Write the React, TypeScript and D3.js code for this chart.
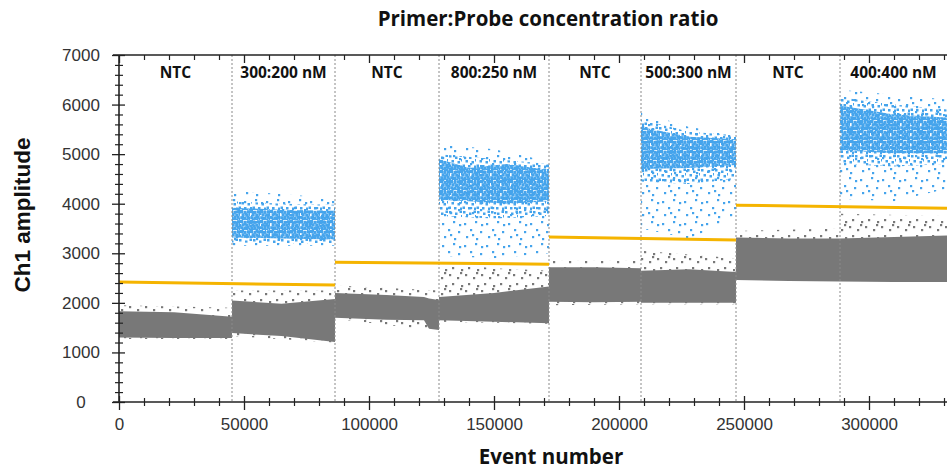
import React, { useEffect, useRef } from "react";
import * as d3 from "d3";

type Band = [number, number, number]; // event number, low amplitude, high amplitude

// wells and their event ranges
const wellLabels = ["NTC", "300:200 nM", "NTC", "800:250 nM", "NTC", "500:300 nM", "NTC", "400:400 nM"];
const wellBounds = [0, 45200, 86400, 128000, 172000, 208800, 246800, 288400, 331200];

// thresholds: start event, end event, amplitude at start, amplitude at end
const thresholds: [number, number, number, number][] = [
  [0, 86400, 2420, 2360],
  [86400, 172000, 2820, 2780],
  [172000, 246800, 3330, 3270],
  [246800, 331200, 3970, 3910],
];

// negative droplets, dense part
const grayCore: Band[] = [
  [0, 1300, 1830],
  [22000, 1290, 1810],
  [45200, 1290, 1720],
  [45200, 1390, 2050],
  [65000, 1330, 1980],
  [86400, 1210, 2080],
  [86400, 1700, 2200],
  [107000, 1660, 2160],
  [122000, 1650, 2120],
  [124000, 1480, 2090],
  [128000, 1450, 2060],
  [128000, 1650, 2120],
  [150000, 1620, 2200],
  [172000, 1590, 2330],
  [172000, 2020, 2720],
  [190000, 2010, 2720],
  [208800, 2020, 2700],
  [208800, 2000, 2650],
  [228000, 2000, 2680],
  [246800, 2000, 2620],
  [246800, 2460, 3320],
  [268000, 2440, 3300],
  [288400, 2430, 3300],
  [310000, 2420, 3330],
  [331200, 2420, 3360],
];

// negative droplets, sparse spread
const grayHalo: Band[] = [
  [0, 1270, 1950],
  [45200, 1270, 1900],
  [45200, 1330, 2250],
  [86400, 1200, 2250],
  [86400, 1680, 2350],
  [128000, 1430, 2250],
  [128000, 1620, 2800],
  [150000, 1600, 2700],
  [172000, 1580, 2650],
  [172000, 1950, 2850],
  [208800, 1970, 2850],
  [208800, 1970, 3050],
  [246800, 1970, 2900],
  [246800, 2440, 3450],
  [288400, 2420, 3500],
  [288400, 2410, 3800],
  [331200, 2410, 3750],
];

// positive droplets, dense part, one list per positive well
const blueCore: Band[][] = [
  [[45200, 3320, 3920], [65000, 3300, 3880], [86400, 3280, 3860]],
  [[128000, 4080, 4900], [140000, 4050, 4720], [155000, 4000, 4800], [172000, 4050, 4680]],
  [[208800, 4700, 5550], [228000, 4720, 5350], [246800, 4780, 5300]],
  [[288400, 5080, 5980], [310000, 5020, 5800], [331200, 5020, 5740]],
];

// positive droplets, medium density fringe
const blueMid: Band[][] = [
  [[45200, 3220, 4050], [65000, 3200, 4000], [86400, 3200, 3980]],
  [[128000, 3750, 5000], [150000, 3700, 4900], [172000, 3750, 4800]],
  [[208800, 4450, 5700], [228000, 4400, 5450], [246800, 4500, 5380]],
  [[288400, 4800, 6150], [310000, 4750, 6000], [331200, 4800, 5900]],
];

// positive droplets, sparse spread
const blueHalo: Band[][] = [
  [[45200, 3150, 4250], [65000, 3150, 4200], [86400, 3150, 4100]],
  [[128000, 2950, 5200], [150000, 2900, 5100], [172000, 3000, 4850]],
  [[208800, 3500, 5850], [228000, 3300, 5550], [246800, 3700, 5400]],
  [[288400, 4100, 6300], [310000, 4050, 6200], [331200, 4300, 6100]],
];

const xTicks = [0, 50000, 100000, 150000, 200000, 250000, 300000];
const yTicks = [0, 1000, 2000, 3000, 4000, 5000, 6000, 7000];
const xMinor = d3.range(0, 331200, 10000).filter((v) => v % 50000 !== 0);
const yMinor = d3.range(0, 7000, 200).filter((v) => v % 1000 !== 0);

const BLUE = "#45a4ec";
const GRAY = "#787878";
const ORANGE = "#f5b400";

// texture tiles for the droplet clouds
const denseTile = [
  [0, 0], [3.5, 0.8], [7, 0.2], [1.6, 3.2], [5.2, 3.6], [8.4, 2.8],
  [0.2, 6.2], [3.4, 6.6], [6.6, 5.8], [8.6, 7.8], [1.8, 8.4], [5.2, 8.8],
];
const midTile = [
  [1, 1], [7, 2.5], [11.5, 0.5], [3.5, 6], [9.5, 7], [0.5, 10.5], [6, 11], [12, 11.5], [13, 5],
];
const sparseTile = [
  [2, 3], [13, 1], [8, 9], [18, 11], [4, 16], [14, 18], [19, 4], [10, 14],
];
const grayTile = [[1, 2], [9, 5], [4, 11], [13, 13], [12, 0]];

const width = 947;
const height = 469;

const App: React.FC = () => {
  const svgRef = useRef<SVGSVGElement>(null);

  useEffect(() => {
    if (!svgRef.current) return;
    const svg = d3.select(svgRef.current);
    svg.selectAll("*").remove();

    const left = 119;
    const right = 947;
    const top = 55;
    const bottom = 402;

    const x = d3.scaleLinear().domain([0, 331200]).range([left, right]);
    const y = d3.scaleLinear().domain([0, 7000]).range([bottom, top]);

    const defs = svg.append("defs");
    defs
      .append("clipPath")
      .attr("id", "plot")
      .append("rect")
      .attr("x", left)
      .attr("y", top)
      .attr("width", right - left)
      .attr("height", bottom - top);

    const tile = (id: string, size: number, dots: number[][], color: string, s: number) => {
      const p = defs
        .append("pattern")
        .attr("id", id)
        .attr("patternUnits", "userSpaceOnUse")
        .attr("width", size)
        .attr("height", size);
      p.selectAll("rect")
        .data(dots)
        .join("rect")
        .attr("x", (d) => d[0])
        .attr("y", (d) => d[1])
        .attr("width", s)
        .attr("height", s)
        .attr("fill", color);
    };
    tile("blueDense", 10, denseTile, BLUE, 3.1);
    tile("blueMid", 14, midTile, BLUE, 2.5);
    tile("blueSparse", 22, sparseTile, BLUE, 2.2);
    tile("graySparse", 16, grayTile, GRAY, 2.2);

    const area = d3
      .area<Band>()
      .x((d) => x(d[0]))
      .y0((d) => y(d[1]))
      .y1((d) => y(d[2]));

    const plot = svg.append("g").attr("clip-path", "url(#plot)");

    // gray droplets
    plot.append("path").attr("d", area(grayHalo)).attr("fill", "url(#graySparse)");
    plot.append("path").attr("d", area(grayCore)).attr("fill", GRAY);

    // blue droplets
    const cloud = (bands: Band[][], fill: string) =>
      plot
        .append("g")
        .selectAll("path")
        .data(bands)
        .join("path")
        .attr("d", (d) => area(d))
        .attr("fill", fill);
    cloud(blueHalo, "url(#blueSparse)");
    cloud(blueMid, "url(#blueMid)");
    cloud(blueCore, "url(#blueDense)");

    // well dividers
    svg
      .append("g")
      .selectAll("line")
      .data(wellBounds.slice(1, -1))
      .join("line")
      .attr("x1", (d) => x(d))
      .attr("x2", (d) => x(d))
      .attr("y1", top)
      .attr("y2", bottom)
      .attr("stroke", "#8a8a8a")
      .attr("stroke-width", 1)
      .attr("stroke-dasharray", "2,2");

    // thresholds
    svg
      .append("g")
      .selectAll("line")
      .data(thresholds)
      .join("line")
      .attr("x1", (d) => x(d[0]))
      .attr("x2", (d) => x(d[1]))
      .attr("y1", (d) => y(d[2]))
      .attr("y2", (d) => y(d[3]))
      .attr("stroke", ORANGE)
      .attr("stroke-width", 3);

    // well labels
    svg
      .append("g")
      .selectAll("text")
      .data(wellLabels)
      .join("text")
      .attr("x", (_, i) => (x(wellBounds[i]) + x(wellBounds[i + 1])) / 2)
      .attr("y", 78)
      .attr("text-anchor", "middle")
      .attr("font-family", "'Open Sans', sans-serif")
      .attr("font-weight", 700)
      .attr("font-size", 15.5)
      .attr("fill", "#111")
      .text((d) => d);

    const axisColor = "#222";
    const tickFont = "'Liberation Sans', Arial, sans-serif";

    // y axis
    const yMajor = svg
      .append("g")
      .attr("transform", `translate(${left},0)`)
      .call(d3.axisLeft(y).tickValues(yTicks).tickSize(7).tickFormat(d3.format("d")));
    yMajor.select(".domain").remove();
    yMajor.selectAll(".tick line").attr("x1", 6).attr("stroke", axisColor).attr("stroke-width", 1.3);
    yMajor
      .selectAll(".tick text")
      .attr("x", -38)
      .attr("text-anchor", "middle")
      .attr("font-family", tickFont)
      .attr("font-size", 17)
      .attr("fill", "#333");

    const yMin = svg
      .append("g")
      .attr("transform", `translate(${left},0)`)
      .call(d3.axisLeft(y).tickValues(yMinor).tickSize(4).tickFormat(() => ""));
    yMin.select(".domain").remove();
    yMin.selectAll(".tick line").attr("x1", 4).attr("stroke", axisColor).attr("stroke-width", 1.2);

    // x axis
    const xMajor = svg
      .append("g")
      .attr("transform", `translate(0,${bottom})`)
      .call(d3.axisBottom(x).tickValues(xTicks).tickSize(8).tickFormat(d3.format("d")));
    xMajor.select(".domain").remove();
    xMajor.selectAll(".tick line").attr("y1", -6).attr("stroke", axisColor).attr("stroke-width", 1.3);
    xMajor
      .selectAll(".tick text")
      .attr("y", 16)
      .attr("font-family", tickFont)
      .attr("font-size", 17)
      .attr("fill", "#333");

    const xMin = svg
      .append("g")
      .attr("transform", `translate(0,${bottom})`)
      .call(d3.axisBottom(x).tickValues(xMinor).tickSize(4).tickFormat(() => ""));
    xMin.select(".domain").remove();
    xMin.selectAll(".tick line").attr("y1", -4).attr("stroke", axisColor).attr("stroke-width", 1.2);

    // top frame ticks
    const tMajor = svg
      .append("g")
      .attr("transform", `translate(0,${top})`)
      .call(d3.axisTop(x).tickValues(xTicks).tickSize(-8).tickFormat(() => ""));
    tMajor.select(".domain").remove();
    tMajor.selectAll(".tick line").attr("stroke", axisColor).attr("stroke-width", 1.3);
    const tMin = svg
      .append("g")
      .attr("transform", `translate(0,${top})`)
      .call(d3.axisTop(x).tickValues(xMinor).tickSize(-5).tickFormat(() => ""));
    tMin.select(".domain").remove();
    tMin.selectAll(".tick line").attr("stroke", axisColor).attr("stroke-width", 1.2);

    // frame lines
    const frame = svg.append("g").attr("stroke", axisColor).attr("stroke-width", 1.6);
    frame.append("line").attr("x1", left).attr("x2", left).attr("y1", top).attr("y2", bottom);
    frame.append("line").attr("x1", left - 6).attr("x2", right).attr("y1", bottom).attr("y2", bottom);
    frame.append("line").attr("x1", left - 6).attr("x2", right).attr("y1", top).attr("y2", top);

    // titles
    svg
      .append("text")
      .attr("x", 548)
      .attr("y", 26)
      .attr("text-anchor", "middle")
      .attr("font-family", "'Open Sans', sans-serif")
      .attr("font-weight", 700)
      .attr("font-size", 20.5)
      .attr("fill", "#111")
      .text("Primer:Probe concentration ratio");

    svg
      .append("text")
      .attr("x", 551)
      .attr("y", 464)
      .attr("text-anchor", "middle")
      .attr("font-family", "'Open Sans', sans-serif")
      .attr("font-weight", 700)
      .attr("font-size", 20.5)
      .attr("fill", "#111")
      .text("Event number");

    svg
      .append("text")
      .attr("transform", "translate(30,215) rotate(-90)")
      .attr("text-anchor", "middle")
      .attr("font-family", tickFont)
      .attr("font-weight", 700)
      .attr("font-size", 22.5)
      .attr("fill", "#111")
      .text("Ch1 amplitude");
  }, []);

  return (
    <svg
      ref={svgRef}
      width={width}
      height={height}
      style={{ position: "absolute", left: 0, top: 0, background: "#fff" }}
    />
  );
};

export default App;
